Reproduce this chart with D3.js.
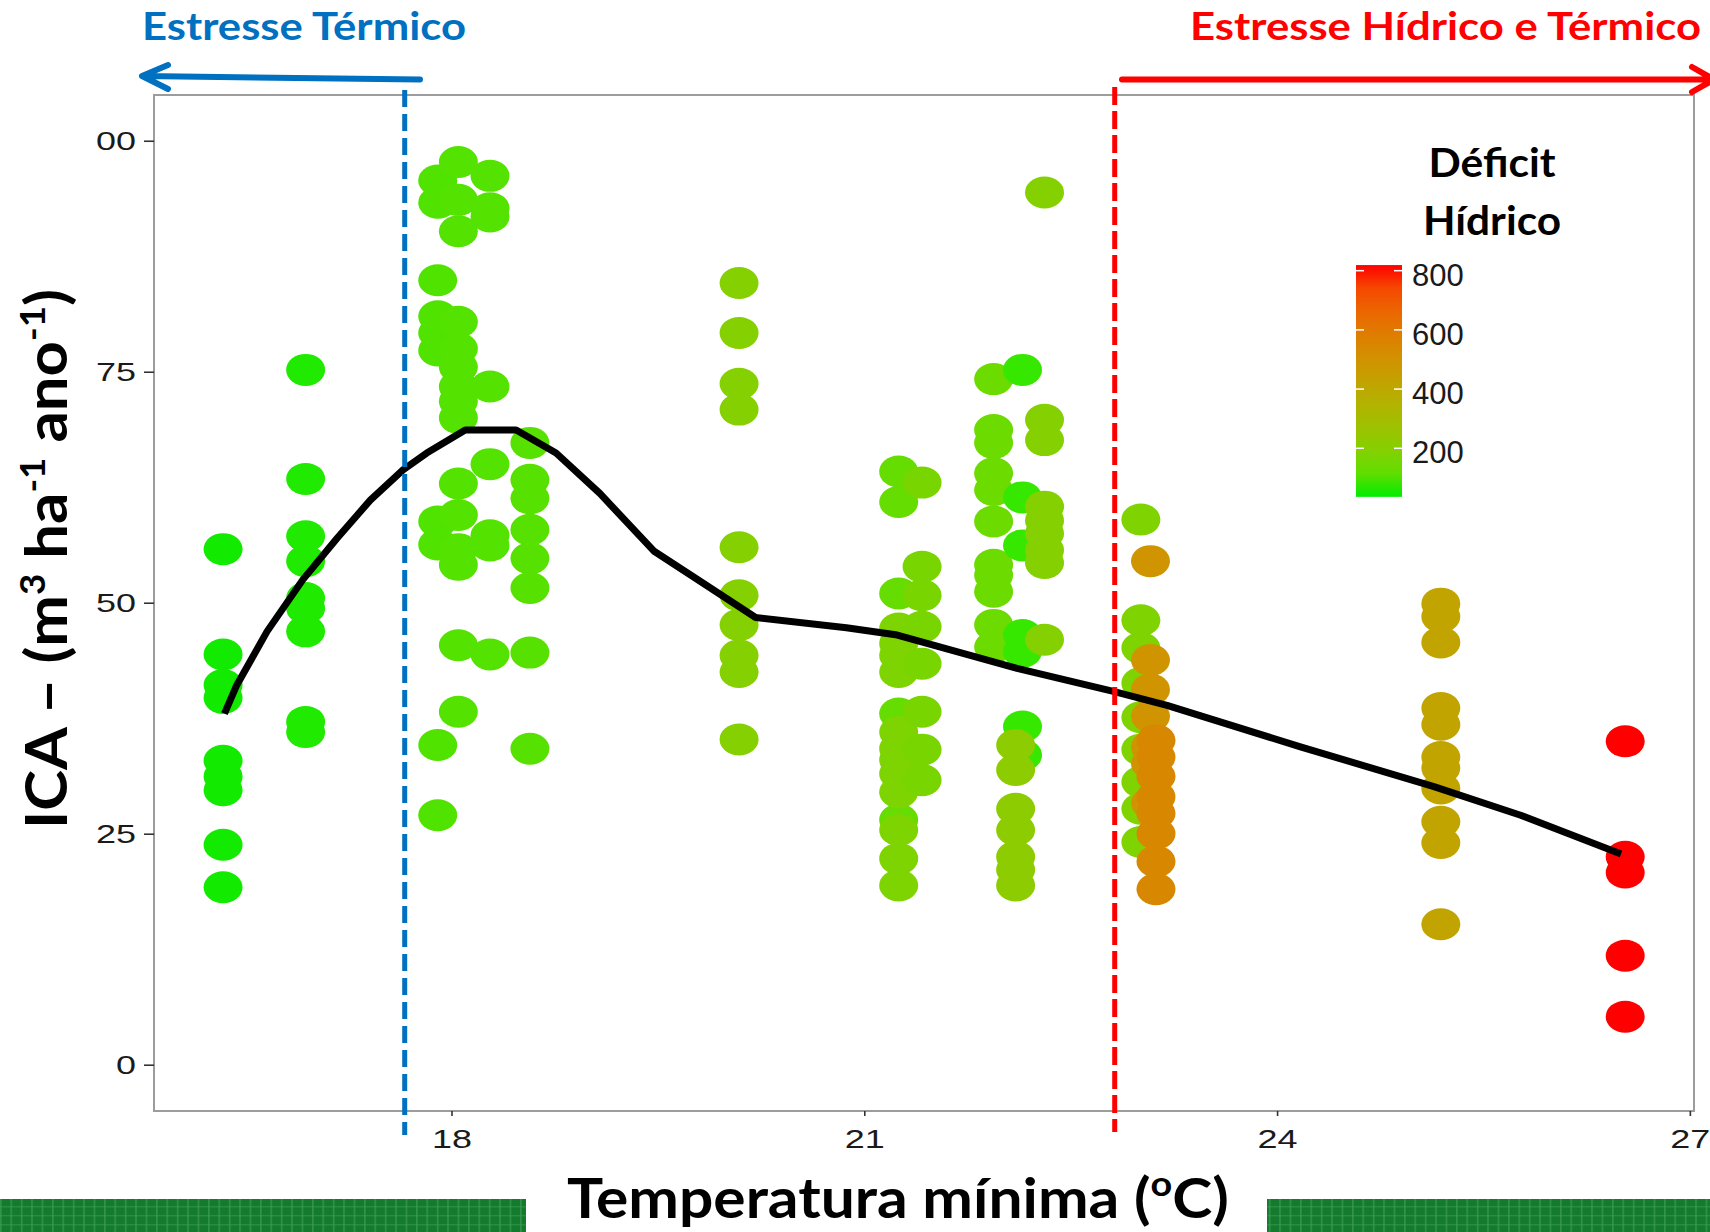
<!DOCTYPE html>
<html>
<head>
<meta charset="utf-8">
<script src="https://cdn.jsdelivr.net/npm/d3@7"></script>
<style>
  body { margin: 0; background: #fff; }
  svg { display: block; }
</style>
</head>
<body>
<div id="chart"></div>
<script>
// ---- data ----
// one group = one column of points sharing min. temperature and water deficit
var groupTemp    = [16.34, 16.94, 17.90, 18.05, 18.28, 18.57, 20.09, 21.25, 21.25, 21.42, 21.94, 22.15, 22.10, 22.31, 23.01, 23.08, 23.12, 25.19, 26.53];
var groupDeficit = [40, 45, 90, 95, 95, 100, 195, 125, 175, 165, 135, 60, 215, 195, 180, 490, 540, 420, 819];
var groupIca = [
  [55.8, 44.4, 41.1, 39.7, 32.9, 31.2, 29.7, 23.8, 19.2],
  [75.2, 63.4, 57.2, 54.5, 50.5, 49.4, 46.9, 37.1, 36.0],
  [95.7, 93.3, 84.9, 81.0, 79.2, 77.3, 58.8, 56.3, 34.6, 27.0],
  [97.7, 93.6, 90.2, 80.4, 77.5, 75.5, 73.4, 71.8, 70.0, 62.9, 59.5, 55.8, 54.1, 45.4, 38.2],
  [96.2, 92.7, 91.8, 73.4, 65.0, 57.3, 56.2, 44.4],
  [67.3, 63.3, 61.3, 57.9, 54.8, 51.6, 44.6, 34.2],
  [84.6, 79.2, 73.7, 70.9, 56.0, 50.8, 47.6, 44.3, 42.5, 35.2],
  [64.2, 60.9, 51.0, 38.0, 26.5],
  [47.2, 45.6, 44.3, 42.5, 36.0, 34.2, 33.0, 31.5, 29.5, 25.4, 22.3, 19.4],
  [63.0, 53.9, 50.8, 47.4, 43.4, 38.2, 34.1, 30.8],
  [74.2, 68.7, 67.3, 64.0, 62.2, 58.8, 54.1, 53.0, 51.2, 47.6, 45.2],
  [75.2, 61.4, 56.2, 46.5, 44.7, 36.6, 33.5],
  [34.6, 31.9, 27.7, 25.4, 22.5, 21.1, 19.4],
  [94.4, 69.8, 67.6, 60.4, 58.9, 57.5, 55.7, 54.3, 46.0],
  [59.0, 48.1, 45.1, 41.3, 37.6, 34.1, 30.6, 27.7, 24.1],
  [54.5, 43.8, 40.6, 37.7, 34.4, 32.6, 28.3],
  [35.1, 33.3, 31.2, 29.0, 27.2, 25.0, 22.0, 19.0],
  [49.9, 48.5, 45.7, 38.6, 36.8, 33.3, 32.1, 29.9, 26.3, 24.0, 15.2],
  [35.0, 22.5, 20.8, 11.8, 5.2]
];

// smoothed trend line
var smoothTemp = [16.35, 16.44, 16.66, 16.92, 17.17, 17.41, 17.65, 17.82, 18.10, 18.47, 18.76, 19.08, 19.47, 19.81, 20.21, 20.87, 21.24, 21.60, 22.11, 22.81, 23.20, 24.17, 25.14, 25.77, 26.50];
var smoothIca  = [38.0, 41.1, 46.9, 52.5, 57.0, 61.1, 64.4, 66.2, 68.7, 68.7, 66.2, 61.8, 55.6, 52.3, 48.4, 47.3, 46.5, 45.0, 42.9, 40.4, 38.9, 34.4, 30.1, 27.0, 22.8];

var xTicks = [18, 21, 24, 27];
var yTicks = [0, 25, 50, 75, 100];
var yTickLabels = ["0", "25", "50", "75", "00"];   // leading "1" is cut off in the original
var legendTicks = [200, 400, 600, 800];
var deficitRange = [36, 819];
var thermalLimit = 17.66;
var waterLimit = 22.82;

// ---- layout ----
var W = 1710, H = 1232;
var panel = { left: 154, right: 1694, top: 95, bottom: 1111 };

var svg = d3.select("#chart").append("svg")
    .attr("width", W)
    .attr("height", H);

var defs = svg.append("defs");

var x = d3.scaleLinear().domain([15.838, 27.03]).range([panel.left, panel.right]);
var y = d3.scaleLinear().domain([-5.01, 104.95]).range([panel.bottom, panel.top]);
var color = d3.scaleLinear().domain(deficitRange)
    .range(["#00ec00", "#ff0000"])
    .interpolate(d3.interpolateLab);

// flatten groups into points
var points = [];
groupTemp.forEach(function (t, i) {
  groupIca[i].forEach(function (v) {
    points.push({ temp: t, ica: v, deficit: groupDeficit[i] });
  });
});

// panel border
svg.append("rect")
    .attr("x", panel.left)
    .attr("y", panel.top)
    .attr("width", panel.right - panel.left)
    .attr("height", panel.bottom - panel.top)
    .attr("fill", "none")
    .attr("stroke", "#9c9c9c")
    .attr("stroke-width", 2);

// axes
var yAxis = svg.append("g")
    .attr("transform", "translate(" + panel.left + ",0)")
    .call(d3.axisLeft(y).tickValues(yTicks)
      .tickFormat(function (d, i) { return yTickLabels[i]; })
      .tickSize(10).tickPadding(8));

var xAxis = svg.append("g")
    .attr("transform", "translate(0," + panel.bottom + ")")
    .call(d3.axisBottom(x).tickValues(xTicks).tickFormat(d3.format("d"))
      .tickSize(5).tickPadding(14));

[yAxis, xAxis].forEach(function (ax) {
  ax.select(".domain").remove();
  ax.selectAll(".tick line").attr("stroke", "#333").attr("stroke-width", 1.6);
  ax.selectAll(".tick text")
      .attr("fill", "#1a1a1a")
      .style("font-family", "'Liberation Sans', Arial, sans-serif")
      .style("font-size", "26px")
      .attr("lengthAdjust", "spacingAndGlyphs")
      .attr("textLength", function () { return this.textContent.length * 20; });
});

// points
svg.append("g").selectAll("ellipse")
    .data(points)
  .enter().append("ellipse")
    .attr("cx", function (d) { return x(d.temp); })
    .attr("cy", function (d) { return y(d.ica); })
    .attr("rx", 19.5)
    .attr("ry", 16)
    .attr("fill", function (d) { return color(d.deficit); });

// trend line
var line = d3.line()
    .x(function (d, i) { return x(smoothTemp[i]); })
    .y(function (d, i) { return y(smoothIca[i]); });

svg.append("path")
    .datum(smoothTemp)
    .attr("d", line)
    .attr("fill", "none")
    .attr("stroke", "#000")
    .attr("stroke-width", 7)
    .attr("stroke-linejoin", "round");

// threshold dashed lines
svg.append("line")
    .attr("x1", x(thermalLimit)).attr("x2", x(thermalLimit))
    .attr("y1", 90).attr("y2", 1135)
    .attr("stroke", "#0070c0")
    .attr("stroke-width", 5)
    .attr("stroke-dasharray", "17,7");

svg.append("line")
    .attr("x1", x(waterLimit)).attr("x2", x(waterLimit))
    .attr("y1", 87).attr("y2", 1132)
    .attr("stroke", "#ff0000")
    .attr("stroke-width", 5)
    .attr("stroke-dasharray", "18,6");

// arrows
svg.append("path")
    .attr("d", "M420,79.5 L143,76 M168,65 L142,76 L168,89")
    .attr("fill", "none")
    .attr("stroke", "#0070c0")
    .attr("stroke-width", 6)
    .attr("stroke-linecap", "round")
    .attr("stroke-linejoin", "round");

svg.append("path")
    .attr("d", "M1122,79.5 L1712,79.5 M1692,67 L1714,79.5 L1692,92")
    .attr("fill", "none")
    .attr("stroke", "#ff0000")
    .attr("stroke-width", 6)
    .attr("stroke-linecap", "round")
    .attr("stroke-linejoin", "round");

var titleFont = "Lato, 'Open Sans', sans-serif";

svg.append("text")
    .attr("x", 142).attr("y", 40)
    .attr("fill", "#0070c0")
    .style("font-family", titleFont)
    .style("font-weight", 700)
    .style("font-size", "39px")
    .attr("textLength", 324)
    .attr("lengthAdjust", "spacingAndGlyphs")
    .text("Estresse Térmico");

svg.append("text")
    .attr("x", 1190).attr("y", 40)
    .attr("fill", "#ff0000")
    .style("font-family", titleFont)
    .style("font-weight", 700)
    .style("font-size", "39px")
    .attr("textLength", 511)
    .attr("lengthAdjust", "spacingAndGlyphs")
    .text("Estresse Hídrico e Térmico");

// legend
var legX = 1356, legW = 46;
var legY = d3.scaleLinear().domain([0, 800]).range([507.5, 270.7]);

var grad = defs.append("linearGradient")
    .attr("id", "defgrad")
    .attr("x1", 0).attr("y1", 1).attr("x2", 0).attr("y2", 0);
d3.range(0, 1.0001, 0.1).forEach(function (t) {
  grad.append("stop")
      .attr("offset", t)
      .attr("stop-color", color(deficitRange[0] + t * (deficitRange[1] - deficitRange[0])));
});

svg.append("rect")
    .attr("x", legX)
    .attr("y", legY(deficitRange[1]))
    .attr("width", legW)
    .attr("height", legY(deficitRange[0]) - legY(deficitRange[1]))
    .attr("fill", "url(#defgrad)");

var legTick = svg.append("g").selectAll("g")
    .data(legendTicks)
  .enter().append("g");

legTick.append("line")
    .attr("x1", legX).attr("x2", legX + 8)
    .attr("y1", function (d) { return legY(d); })
    .attr("y2", function (d) { return legY(d); })
    .attr("stroke", "#fff").attr("stroke-width", 1.5);
legTick.append("line")
    .attr("x1", legX + legW - 8).attr("x2", legX + legW)
    .attr("y1", function (d) { return legY(d); })
    .attr("y2", function (d) { return legY(d); })
    .attr("stroke", "#fff").attr("stroke-width", 1.5);
legTick.append("text")
    .attr("x", 1412)
    .attr("y", function (d) { return legY(d) + 15; })
    .attr("fill", "#1a1a1a")
    .style("font-family", "'Liberation Sans', Arial, sans-serif")
    .style("font-size", "31px")
    .text(String);

svg.append("text")
    .attr("x", 1492).attr("y", 177)
    .attr("text-anchor", "middle")
    .style("font-family", titleFont)
    .style("font-weight", 700)
    .style("font-size", "40px")
    .attr("textLength", 127)
    .attr("lengthAdjust", "spacingAndGlyphs")
    .text("Déficit");

svg.append("text")
    .attr("x", 1492).attr("y", 235)
    .attr("text-anchor", "middle")
    .style("font-family", titleFont)
    .style("font-weight", 700)
    .style("font-size", "40px")
    .attr("textLength", 138)
    .attr("lengthAdjust", "spacingAndGlyphs")
    .text("Hídrico");

// footer green bands
var pat = defs.append("pattern")
    .attr("id", "weave")
    .attr("patternUnits", "userSpaceOnUse")
    .attr("width", 10.4).attr("height", 9);
pat.append("rect").attr("width", 10.4).attr("height", 9).attr("fill", "#137a2e");
pat.append("rect").attr("x", 0).attr("width", 1.6).attr("height", 9).attr("fill", "#3f9d52").attr("opacity", 0.7);
pat.append("rect").attr("y", 0).attr("width", 10.4).attr("height", 1.4).attr("fill", "#3f9d52").attr("opacity", 0.5);

svg.append("rect").attr("x", 0).attr("y", 1199).attr("width", 526).attr("height", 33).attr("fill", "url(#weave)");
svg.append("rect").attr("x", 1267).attr("y", 1199).attr("width", 443).attr("height", 33).attr("fill", "url(#weave)");

// axis titles
var xt = svg.append("text")
    .attr("x", 898).attr("y", 1218)
    .attr("text-anchor", "middle")
    .style("font-family", titleFont)
    .style("font-weight", 700)
    .style("font-size", "56px")
    .attr("textLength", 662)
    .attr("lengthAdjust", "spacingAndGlyphs");
xt.append("tspan").text("Temperatura mínima (");
xt.append("tspan").attr("dy", -22).style("font-size", "35px").text("o");
xt.append("tspan").attr("dy", 22).text("C)");

var yt = svg.append("text")
    .attr("transform", "translate(67,559) rotate(-90)")
    .attr("text-anchor", "middle")
    .style("font-family", titleFont)
    .style("font-weight", 700)
    .style("font-size", "57px")
    .attr("textLength", 540)
    .attr("lengthAdjust", "spacingAndGlyphs");
yt.append("tspan").text("ICA \u2013  (m");
yt.append("tspan").attr("dy", -22).style("font-size", "34px").text("3");
yt.append("tspan").attr("dy", 22).text(" ha");
yt.append("tspan").attr("dy", -22).style("font-size", "34px").text("-1");
yt.append("tspan").attr("dy", 22).text(" ano");
yt.append("tspan").attr("dy", -22).style("font-size", "34px").text("-1");
yt.append("tspan").attr("dy", 22).text(")");
</script>
</body>
</html>
